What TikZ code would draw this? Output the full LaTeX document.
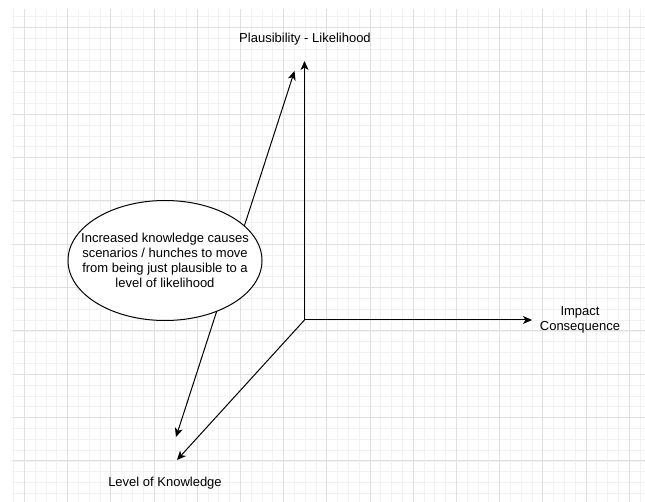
\documentclass[tikz,border=0pt]{standalone}
\usepackage{fontspec}
\setmainfont{Liberation Sans}
\usetikzlibrary{arrows.meta,shapes.geometric}
\begin{document}
\begin{tikzpicture}[x=1pt,y=-1pt,
  minorgrid/.style={draw=black!5,line width=0.8pt},
  majorgrid/.style={draw=black!12,line width=0.8pt},
  axis/.style={draw=black,line width=1pt,-{Stealth[length=9pt,width=8pt,inset=2.5pt]}},
  lbl/.style={inner sep=0pt,align=center,font=\fontsize{13}{15}\selectfont},
  bubble/.style={draw=black,fill=white,line width=1pt,ellipse,minimum width=194pt,minimum height=120pt,inner xsep=-16pt,inner ysep=0pt,align=center,font=\fontsize{13}{15}\selectfont}
]
\useasboundingbox (0,0) rectangle (645,502);
\fill[white] (0,0) rectangle (645,502);
\begin{scope}
\clip (12,10) rectangle (645,502);
\foreach \i in {0,...,58} \draw[minorgrid] ({13.5+\i*10.8},0) -- ({13.5+\i*10.8},502);
\foreach \j in {-1,...,44} \draw[minorgrid] (0,{16.9+\j*10.83}) -- (645,{16.9+\j*10.83});
\foreach \i in {0,...,14} \draw[majorgrid] ({24.3+\i*43.2},0) -- ({24.3+\i*43.2},502);
\foreach \j in {0,...,10} \draw[majorgrid] (0,{27.7+\j*43.3}) -- (645,{27.7+\j*43.3});
\end{scope}

\coordinate (O) at (304.5,320);
\coordinate (ytip) at (304.5,61);
\coordinate (xtip) at (532,320);
\coordinate (ztip) at (177,460);
\coordinate (up) at (294.5,71);
\coordinate (down) at (176,437);

\draw[axis] (O) -- (ytip);
\draw[axis] (O) -- (xtip);
\draw[axis] (O) -- (ztip);
\draw[draw=black,line width=1pt,{Stealth[length=9pt,width=8pt,inset=2.5pt]}-{Stealth[length=9pt,width=8pt,inset=2.5pt]}] (down) -- (up);

\node[bubble] (note) at (165,260.5) {Increased knowledge causes\\scenarios / hunches to move\\from being just plausible to a\\level of likelihood};

\node[lbl] (plaus) at (305,39) {Plausibility - Likelihood};
\node[lbl] (impact) at (580,320) {Impact\\Consequence};
\node[lbl] (know) at (165,483) {Level of Knowledge};
\end{tikzpicture}
\end{document}
